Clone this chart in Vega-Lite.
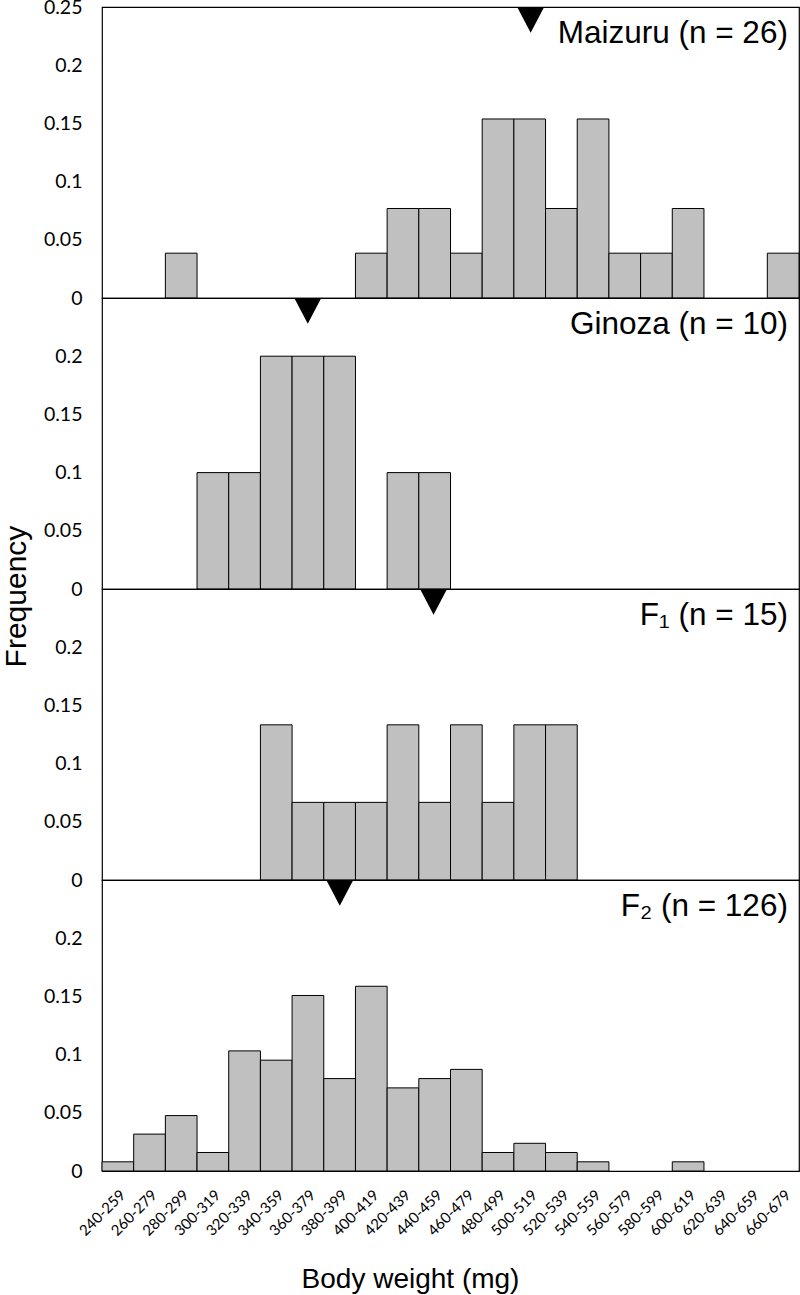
{
  "$schema": "https://vega.github.io/schema/vega-lite/v6.json",
  "autosize": {"type": "pad"},
  "padding": {"left": 0, "top": -4, "right": 0, "bottom": 0},
  "bounds": "flush",
  "spacing": 0,
  "background": "white",
  "config": {
    "view": {"stroke": "black", "strokeWidth": 1.2},
    "axis": {"grid": false, "domain": false, "ticks": false, "tickSize": 0, "labelColor": "black", "titleColor": "black"}
  },
  "datasets": {
    "bars": [
      {"panel": "Maizuru", "bin": "280-299", "freq": 0.0385},
      {"panel": "Maizuru", "bin": "400-419", "freq": 0.0385},
      {"panel": "Maizuru", "bin": "420-439", "freq": 0.0769},
      {"panel": "Maizuru", "bin": "440-459", "freq": 0.0769},
      {"panel": "Maizuru", "bin": "460-479", "freq": 0.0385},
      {"panel": "Maizuru", "bin": "480-499", "freq": 0.1538},
      {"panel": "Maizuru", "bin": "500-519", "freq": 0.1538},
      {"panel": "Maizuru", "bin": "520-539", "freq": 0.0769},
      {"panel": "Maizuru", "bin": "540-559", "freq": 0.1538},
      {"panel": "Maizuru", "bin": "560-579", "freq": 0.0385},
      {"panel": "Maizuru", "bin": "580-599", "freq": 0.0385},
      {"panel": "Maizuru", "bin": "600-619", "freq": 0.0769},
      {"panel": "Maizuru", "bin": "660-679", "freq": 0.0385},
      {"panel": "Ginoza", "bin": "300-319", "freq": 0.1},
      {"panel": "Ginoza", "bin": "320-339", "freq": 0.1},
      {"panel": "Ginoza", "bin": "340-359", "freq": 0.2},
      {"panel": "Ginoza", "bin": "360-379", "freq": 0.2},
      {"panel": "Ginoza", "bin": "380-399", "freq": 0.2},
      {"panel": "Ginoza", "bin": "420-439", "freq": 0.1},
      {"panel": "Ginoza", "bin": "440-459", "freq": 0.1},
      {"panel": "F1", "bin": "340-359", "freq": 0.1333},
      {"panel": "F1", "bin": "360-379", "freq": 0.0667},
      {"panel": "F1", "bin": "380-399", "freq": 0.0667},
      {"panel": "F1", "bin": "400-419", "freq": 0.0667},
      {"panel": "F1", "bin": "420-439", "freq": 0.1333},
      {"panel": "F1", "bin": "440-459", "freq": 0.0667},
      {"panel": "F1", "bin": "460-479", "freq": 0.1333},
      {"panel": "F1", "bin": "480-499", "freq": 0.0667},
      {"panel": "F1", "bin": "500-519", "freq": 0.1333},
      {"panel": "F1", "bin": "520-539", "freq": 0.1333},
      {"panel": "F2", "bin": "240-259", "freq": 0.0079},
      {"panel": "F2", "bin": "260-279", "freq": 0.0317},
      {"panel": "F2", "bin": "280-299", "freq": 0.0476},
      {"panel": "F2", "bin": "300-319", "freq": 0.0159},
      {"panel": "F2", "bin": "320-339", "freq": 0.1032},
      {"panel": "F2", "bin": "340-359", "freq": 0.0952},
      {"panel": "F2", "bin": "360-379", "freq": 0.1508},
      {"panel": "F2", "bin": "380-399", "freq": 0.0794},
      {"panel": "F2", "bin": "400-419", "freq": 0.1587},
      {"panel": "F2", "bin": "420-439", "freq": 0.0714},
      {"panel": "F2", "bin": "440-459", "freq": 0.0794},
      {"panel": "F2", "bin": "460-479", "freq": 0.0873},
      {"panel": "F2", "bin": "480-499", "freq": 0.0159},
      {"panel": "F2", "bin": "500-519", "freq": 0.0238},
      {"panel": "F2", "bin": "520-539", "freq": 0.0159},
      {"panel": "F2", "bin": "540-559", "freq": 0.0079},
      {"panel": "F2", "bin": "600-619", "freq": 0.0079}
    ],
    "panels": [
      {"panel": "Maizuru", "label": "Maizuru (n = 26)", "mean": 510.6},
      {"panel": "Ginoza", "label": "Ginoza (n = 10)", "mean": 369.9},
      {"panel": "F1", "label": "F₁ (n = 15)", "mean": 449.3},
      {"panel": "F2", "label": "F₂ (n = 126)", "mean": 390.1}
    ]
  },
  "vconcat": [
    {
      "width": 697, "height": 291,
      "resolve": {"scale": {"x": "independent"}},
      "layer": [
        {
          "data": {"name": "bars"},
          "transform": [{"filter": "datum.panel === 'Maizuru'"}],
          "mark": {"type": "bar", "fill": "#C0C0C0", "stroke": "black", "strokeWidth": 1},
          "encoding": {
            "x": {"field": "bin", "type": "ordinal", "scale": {"domain": ["240-259","260-279","280-299","300-319","320-339","340-359","360-379","380-399","400-419","420-439","440-459","460-479","480-499","500-519","520-539","540-559","560-579","580-599","600-619","620-639","640-659","660-679"], "paddingInner": 0, "paddingOuter": 0}, "axis": null},
            "y": {"field": "freq", "type": "quantitative", "scale": {"domain": [0, 0.25], "nice": false}, "axis": {"values": [0, 0.05, 0.1, 0.15, 0.2, 0.25], "format": "~g", "labelFont": "Lato", "labelFontSize": 19.5, "labelPadding": 20, "title": null}}
          }
        },
        {
          "data": {"name": "panels"},
          "transform": [{"filter": "datum.panel === 'Maizuru'"}],
          "mark": {"type": "point", "shape": "M-1,0L1,0L0,1.9Z", "size": 729, "filled": true, "color": "black", "strokeWidth": 0, "opacity": 1},
          "encoding": {
            "x": {"field": "mean", "type": "quantitative", "scale": {"domain": [240, 680], "nice": false, "zero": false}, "axis": null},
            "y": {"datum": 0.25, "type": "quantitative", "title": null}
          }
        },
        {
          "data": {"name": "panels"},
          "transform": [{"filter": "datum.panel === 'Maizuru'"}],
          "mark": {"type": "text", "align": "right", "baseline": "alphabetic", "font": "Liberation Sans", "fontSize": 31.5, "color": "black"},
          "encoding": {
            "text": {"field": "label"},
            "x": {"datum": 673, "type": "quantitative", "scale": {"domain": [240, 680], "nice": false, "zero": false}, "axis": null},
            "y": {"datum": 0.219, "type": "quantitative", "title": null}
          }
        }
      ]
    },
    {
      "width": 697, "height": 291,
      "resolve": {"scale": {"x": "independent"}},
      "layer": [
        {
          "data": {"name": "bars"},
          "transform": [{"filter": "datum.panel === 'Ginoza'"}],
          "mark": {"type": "bar", "fill": "#C0C0C0", "stroke": "black", "strokeWidth": 1},
          "encoding": {
            "x": {"field": "bin", "type": "ordinal", "scale": {"domain": ["240-259","260-279","280-299","300-319","320-339","340-359","360-379","380-399","400-419","420-439","440-459","460-479","480-499","500-519","520-539","540-559","560-579","580-599","600-619","620-639","640-659","660-679"], "paddingInner": 0, "paddingOuter": 0}, "axis": null},
            "y": {"field": "freq", "type": "quantitative", "scale": {"domain": [0, 0.25], "nice": false}, "axis": {"values": [0, 0.05, 0.1, 0.15, 0.2], "format": "~g", "labelFont": "Lato", "labelFontSize": 19.5, "labelPadding": 20, "title": "Frequency", "titleFont": "Liberation Sans", "titleFontSize": 30, "titleFontWeight": "normal", "titleAngle": 270, "titleAlign": "center", "titleBaseline": "alphabetic", "titleX": -77, "titleY": 298}}
          }
        },
        {
          "data": {"name": "panels"},
          "transform": [{"filter": "datum.panel === 'Ginoza'"}],
          "mark": {"type": "point", "shape": "M-1,0L1,0L0,1.9Z", "size": 729, "filled": true, "color": "black", "strokeWidth": 0, "opacity": 1},
          "encoding": {
            "x": {"field": "mean", "type": "quantitative", "scale": {"domain": [240, 680], "nice": false, "zero": false}, "axis": null},
            "y": {"datum": 0.25, "type": "quantitative", "title": null}
          }
        },
        {
          "data": {"name": "panels"},
          "transform": [{"filter": "datum.panel === 'Ginoza'"}],
          "mark": {"type": "text", "align": "right", "baseline": "alphabetic", "font": "Liberation Sans", "fontSize": 31.5, "color": "black"},
          "encoding": {
            "text": {"field": "label"},
            "x": {"datum": 673, "type": "quantitative", "scale": {"domain": [240, 680], "nice": false, "zero": false}, "axis": null},
            "y": {"datum": 0.219, "type": "quantitative", "title": null}
          }
        }
      ]
    },
    {
      "width": 697, "height": 291,
      "resolve": {"scale": {"x": "independent"}},
      "layer": [
        {
          "data": {"name": "bars"},
          "transform": [{"filter": "datum.panel === 'F1'"}],
          "mark": {"type": "bar", "fill": "#C0C0C0", "stroke": "black", "strokeWidth": 1},
          "encoding": {
            "x": {"field": "bin", "type": "ordinal", "scale": {"domain": ["240-259","260-279","280-299","300-319","320-339","340-359","360-379","380-399","400-419","420-439","440-459","460-479","480-499","500-519","520-539","540-559","560-579","580-599","600-619","620-639","640-659","660-679"], "paddingInner": 0, "paddingOuter": 0}, "axis": null},
            "y": {"field": "freq", "type": "quantitative", "scale": {"domain": [0, 0.25], "nice": false}, "axis": {"values": [0, 0.05, 0.1, 0.15, 0.2], "format": "~g", "labelFont": "Lato", "labelFontSize": 19.5, "labelPadding": 20, "title": null}}
          }
        },
        {
          "data": {"name": "panels"},
          "transform": [{"filter": "datum.panel === 'F1'"}],
          "mark": {"type": "point", "shape": "M-1,0L1,0L0,1.9Z", "size": 729, "filled": true, "color": "black", "strokeWidth": 0, "opacity": 1},
          "encoding": {
            "x": {"field": "mean", "type": "quantitative", "scale": {"domain": [240, 680], "nice": false, "zero": false}, "axis": null},
            "y": {"datum": 0.25, "type": "quantitative", "title": null}
          }
        },
        {
          "data": {"name": "panels"},
          "transform": [{"filter": "datum.panel === 'F1'"}],
          "mark": {"type": "text", "align": "right", "baseline": "alphabetic", "font": "Liberation Sans", "fontSize": 31.5, "color": "black"},
          "encoding": {
            "text": {"field": "label"},
            "x": {"datum": 673, "type": "quantitative", "scale": {"domain": [240, 680], "nice": false, "zero": false}, "axis": null},
            "y": {"datum": 0.219, "type": "quantitative", "title": null}
          }
        }
      ]
    },
    {
      "width": 697, "height": 291,
      "resolve": {"scale": {"x": "independent"}},
      "layer": [
        {
          "data": {"name": "bars"},
          "transform": [{"filter": "datum.panel === 'F2'"}],
          "mark": {"type": "bar", "fill": "#C0C0C0", "stroke": "black", "strokeWidth": 1},
          "encoding": {
            "x": {"field": "bin", "type": "ordinal", "scale": {"domain": ["240-259","260-279","280-299","300-319","320-339","340-359","360-379","380-399","400-419","420-439","440-459","460-479","480-499","500-519","520-539","540-559","560-579","580-599","600-619","620-639","640-659","660-679"], "paddingInner": 0, "paddingOuter": 0}, "axis": {"labelAngle": -45, "labelFont": "Lato", "labelFontSize": 15, "labelPadding": 16, "labelOverlap": false, "labelBound": false, "labelFlush": false, "title": "Body weight (mg)", "titleFont": "Liberation Sans", "titleFontSize": 28, "titleFontWeight": "normal", "titleAlign": "center", "titleBaseline": "alphabetic", "titleX": 308, "titleY": 116}},
            "y": {"field": "freq", "type": "quantitative", "scale": {"domain": [0, 0.25], "nice": false}, "axis": {"values": [0, 0.05, 0.1, 0.15, 0.2], "format": "~g", "labelFont": "Lato", "labelFontSize": 19.5, "labelPadding": 20, "title": null}}
          }
        },
        {
          "data": {"name": "panels"},
          "transform": [{"filter": "datum.panel === 'F2'"}],
          "mark": {"type": "point", "shape": "M-1,0L1,0L0,1.9Z", "size": 729, "filled": true, "color": "black", "strokeWidth": 0, "opacity": 1},
          "encoding": {
            "x": {"field": "mean", "type": "quantitative", "scale": {"domain": [240, 680], "nice": false, "zero": false}, "axis": null},
            "y": {"datum": 0.25, "type": "quantitative", "title": null}
          }
        },
        {
          "data": {"name": "panels"},
          "transform": [{"filter": "datum.panel === 'F2'"}],
          "mark": {"type": "text", "align": "right", "baseline": "alphabetic", "font": "Liberation Sans", "fontSize": 31.5, "color": "black"},
          "encoding": {
            "text": {"field": "label"},
            "x": {"datum": 673, "type": "quantitative", "scale": {"domain": [240, 680], "nice": false, "zero": false}, "axis": null},
            "y": {"datum": 0.219, "type": "quantitative", "title": null}
          }
        }
      ]
    }
  ]
}
